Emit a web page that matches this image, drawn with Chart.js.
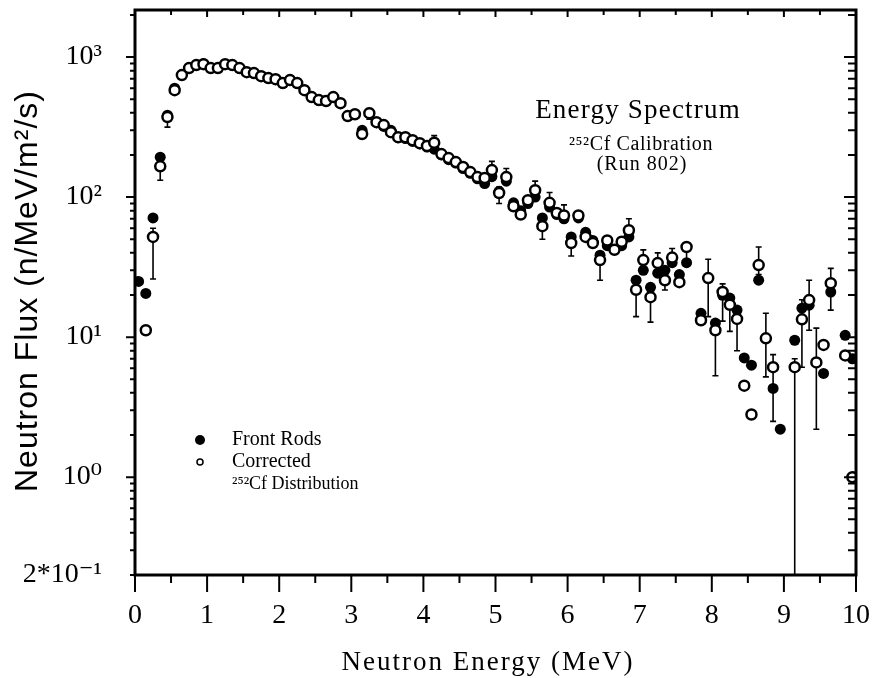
<!DOCTYPE html>
<html><head><meta charset="utf-8">
<script src="https://cdn.jsdelivr.net/npm/chart.js@4.4.1/dist/chart.umd.min.js"></script>
<style>html,body{margin:0;padding:0;background:#fff}#wrap{width:875px;height:678px}</style>
</head><body><div id="wrap"><canvas id="c" width="875" height="678"></canvas></div>
<script>
const energy = [
 0.05,0.15,0.25,0.35,0.45,0.55,0.65,0.75,0.85,0.95,
 1.05,1.15,1.25,1.35,1.45,1.55,1.65,1.75,1.85,1.95,
 2.05,2.15,2.25,2.35,2.45,2.55,2.65,2.75,2.85,2.95,
 3.05,3.15,3.25,3.35,3.45,3.55,3.65,3.75,3.85,3.95,
 4.05,4.15,4.25,4.35,4.45,4.55,4.65,4.75,4.85,4.95,
 5.05,5.15,5.25,5.35,5.45,5.55,5.65,5.75,5.85,5.95,
 6.05,6.15,6.25,6.35,6.45,6.55,6.65,6.75,6.85,6.95,
 7.05,7.15,7.25,7.35,7.45,7.55,7.65,7.75,7.85,7.95,
 8.05,8.15,8.25,8.35,8.45,8.55,8.65,8.75,8.85,8.95,
 9.05,9.15,9.25,9.35,9.45,9.55,9.65,9.75,9.85,9.95];
const frontRods = [
 25,20.5,71,193,385,600,750,840,880,895,
 840,835,890,875,830,780,765,730,705,690,
 650,690,650,580,515,490,490,515,465,380,
 390,300,395,340,320,300,265,262,250,240,
 228,220,200,185,175,160,148,135,125,140,
 110,130,91,80,90,100,71,85,75,70,
 52,71,56,49,38.5,45,42,45,52,25.5,
 30,22.7,28.6,30,34,28,34,null,14.8,null,
 12.6,19.9,19,15.6,7.1,6.3,25.5,null,4.3,2.2,
 null,9.5,16.1,16.9,null,5.5,21,null,10.3,7];
const corrected = [
 null,11.2,52,166,373,581,744,835,877,891,
 835,835,891,877,835,781,769,731,708,696,
 652,685,652,581,518,493,485,518,469,379,
 391,282,398,343,327,291,268,268,255,243,
 232,245,203,190,178,164,151,139,137,156,
 107,139,86,75,95,112,62,91,77,74,
 47,74,52,47,35.5,49,42,48,58,21.8,
 35.5,19.3,33.8,25.5,37,24.7,44,null,13.2,26.4,
 11.2,21,17,13.5,4.5,2.8,32.7,9.8,6.1,null,
 null,6.1,13.4,18.4,6.6,8.8,24.3,null,7.4,1.0];
const correctedErrLow = [
 null,null,26,132,316,null,null,null,null,null,
 null,null,null,null,null,null,null,null,null,null,
 null,null,null,null,null,null,null,null,null,null,
 null,null,360,null,null,270,null,null,null,null,
 null,230,null,null,null,null,null,null,null,140,
 90,128,null,null,null,100,50,82,null,68,
 38,null,null,null,25.5,null,null,null,52,14,
 32,12.8,28,21.7,33,null,34,null,null,14,
 5.3,13,11,8,null,null,28,5.2,2.5,null,
 null,0.05,6.1,11.2,2.2,null,15.6,null,null,null];
const correctedErrHigh = [
 null,null,60,190,400,null,null,null,null,null,
 null,null,null,null,null,null,null,null,null,null,
 null,null,null,null,null,null,null,null,null,null,
 null,null,430,null,null,310,null,null,null,null,
 null,275,null,null,null,null,null,null,null,180,
 118,160,null,null,null,130,70,108,null,88,
 52,null,null,null,40,null,null,null,70,25,
 42,23,40,30,43,null,47,null,null,36,
 13,24,20,16,null,null,44,14.8,7.5,null,
 null,7,18.5,25.5,11.6,null,31,null,null,null];
const xTickValues = [0,1,2,3,4,5,6,7,8,9,10];
const yTickValues = [0.2,1,10,100,1000];
const yTickLabels = ['2*10⁻¹','10⁰','10¹','10²','10³'];
const legendLabels = ['Front Rods','Corrected','²⁵²Cf Distribution'];
const annotationLines = ['Energy Spectrum','²⁵²Cf Calibration','(Run 802)'];
const xTitle = 'Neutron Energy (MeV)';
const yTitle = 'Neutron Flux (n/MeV/m²/s)';

const toPts = arr => energy.map((e,i)=>({x:e,y:arr[i]})).filter(p=>p.y!=null);
const SERIF = '"Liberation Serif","DejaVu Serif",serif';
const SANS = '"Liberation Sans","DejaVu Sans",sans-serif';

const errorBars = {
  id:'errorBars',
  beforeDatasetsDraw(chart){
    const {ctx, chartArea:a, scales:{x,y}} = chart;
    ctx.save();
    ctx.beginPath(); ctx.rect(a.left,a.top,a.right-a.left,a.bottom-a.top); ctx.clip();
    ctx.strokeStyle='#000'; ctx.lineWidth=1.6;
    energy.forEach((e,i)=>{
      const lo=correctedErrLow[i], hi=correctedErrHigh[i];
      if(lo==null && hi==null) return;
      const c=corrected[i];
      const px=x.getPixelForValue(e);
      const y1=y.getPixelForValue(hi!=null?hi:c);
      const y2=y.getPixelForValue(lo!=null?lo:c);
      ctx.beginPath();
      ctx.moveTo(px,y1); ctx.lineTo(px,y2);
      if(hi!=null){ctx.moveTo(px-3,y1); ctx.lineTo(px+3,y1);}
      if(lo!=null){ctx.moveTo(px-3,y2); ctx.lineTo(px+3,y2);}
      ctx.stroke();
    });
    ctx.restore();
  }
};

function spaced(ctx, px){ if ('letterSpacing' in ctx) ctx.letterSpacing = px+'px'; }

const frame = {
  id:'frame',
  afterDraw(chart){
    const {ctx, chartArea:a, scales:{x,y}} = chart;
    ctx.save();
    ctx.strokeStyle='#000';
    ctx.lineWidth=2;
    ctx.beginPath();
    for(let k=0;k<=20;k++){
      const v=k/2, px=x.getPixelForValue(v), major=(k%2===0);
      ctx.moveTo(px,a.bottom); ctx.lineTo(px,a.bottom+(major?17:8));
      ctx.moveTo(px,a.top); ctx.lineTo(px,a.top+(major?7:5));
    }
    for(let d=-1; d<=3; d++){
      for(let m=1;m<=9;m++){
        const v=m*Math.pow(10,d);
        if(v<0.2-1e-9 || v>y.max) continue;
        const py=y.getPixelForValue(v), major=(m===1);
        ctx.moveTo(a.left,py); ctx.lineTo(a.left-(major?9:5),py);
        ctx.moveTo(a.right,py); ctx.lineTo(a.right-(major?12:8),py);
      }
    }
    ctx.stroke();
    ctx.lineWidth=3;
    ctx.strokeRect(a.left,a.top,a.right-a.left,a.bottom-a.top);
    ctx.fillStyle='#000';
    // y title
    ctx.save();
    ctx.translate(28,291); ctx.rotate(-Math.PI/2);
    ctx.font='32px '+SANS; ctx.textAlign='center'; ctx.textBaseline='middle';
    spaced(ctx,1);
    ctx.fillText(yTitle,0,0);
    ctx.restore();
    // x title
    ctx.save();
    ctx.font='27px '+SERIF; ctx.textAlign='center'; ctx.textBaseline='alphabetic';
    spaced(ctx,2);
    ctx.fillText(xTitle,488,670);
    ctx.restore();
    // annotation
    ctx.save();
    ctx.textAlign='center'; ctx.textBaseline='alphabetic';
    ctx.font='27px '+SERIF; spaced(ctx,1.2); ctx.fillText(annotationLines[0],638,118);
    ctx.font='20px '+SERIF; spaced(ctx,0.6); ctx.fillText(annotationLines[1],641,150);
    spaced(ctx,1); ctx.fillText(annotationLines[2],642,170);
    ctx.restore();
    // legend
    ctx.textAlign='left'; ctx.textBaseline='middle';
    ctx.beginPath(); ctx.arc(200,440,5,0,Math.PI*2); ctx.fill();
    ctx.lineWidth=1.5; ctx.beginPath(); ctx.arc(200,462,3,0,Math.PI*2); ctx.stroke();
    ctx.font='20px '+SERIF;
    ctx.fillText(legendLabels[0],232,440);
    ctx.fillText(legendLabels[1],232,462);
    ctx.font='18px '+SERIF;
    ctx.fillText(legendLabels[2],232,484);
    ctx.restore();
  }
};

const noPad = s => { s.paddingTop=0; s.paddingBottom=0; s.paddingLeft=0; s.paddingRight=0; };

new Chart(document.getElementById('c'),{
  type:'scatter',
  data:{datasets:[
    {label:legendLabels[1], data:toPts(corrected), pointRadius:5, pointBackgroundColor:'#fff', pointBorderColor:'#000', pointBorderWidth:2.5, showLine:false},
    {label:legendLabels[0], data:toPts(frontRods), pointRadius:5.5, pointBackgroundColor:'#000', pointBorderColor:'#000', pointBorderWidth:0, showLine:false}
  ]},
  options:{
    responsive:false, animation:false, devicePixelRatio:1,
    layout:{padding:{top:10,right:19,left:0,bottom:0}},
    plugins:{legend:{display:false}, tooltip:{enabled:false}},
    scales:{
      x:{type:'linear', min:0, max:10,
        afterBuildTicks:s=>{s.ticks=xTickValues.map(v=>({value:v}));},
        afterFit:s=>{s.height=103; noPad(s);},
        grid:{display:false, drawTicks:false}, border:{display:false},
        ticks:{padding:24, autoSkip:false, maxRotation:0, color:'#000', font:{family:SERIF,size:28}, callback:v=>String(v)},
        title:{display:false, text:xTitle}
      },
      y:{type:'logarithmic', min:0.2, max:2170,
        afterBuildTicks:s=>{s.ticks=yTickValues.map(v=>({value:v}));},
        afterFit:s=>{s.width=135; noPad(s);},
        grid:{display:false, drawTicks:false}, border:{display:false},
        ticks:{padding:33, autoSkip:false, color:'#000', font:{family:SERIF,size:28},
          callback:v=>{const i=yTickValues.findIndex(t=>Math.abs(t-v)/t<1e-6); return i>=0?yTickLabels[i]:'';}},
        title:{display:false, text:yTitle}
      }
    }
  },
  plugins:[errorBars, frame]
});
</script></body></html>
